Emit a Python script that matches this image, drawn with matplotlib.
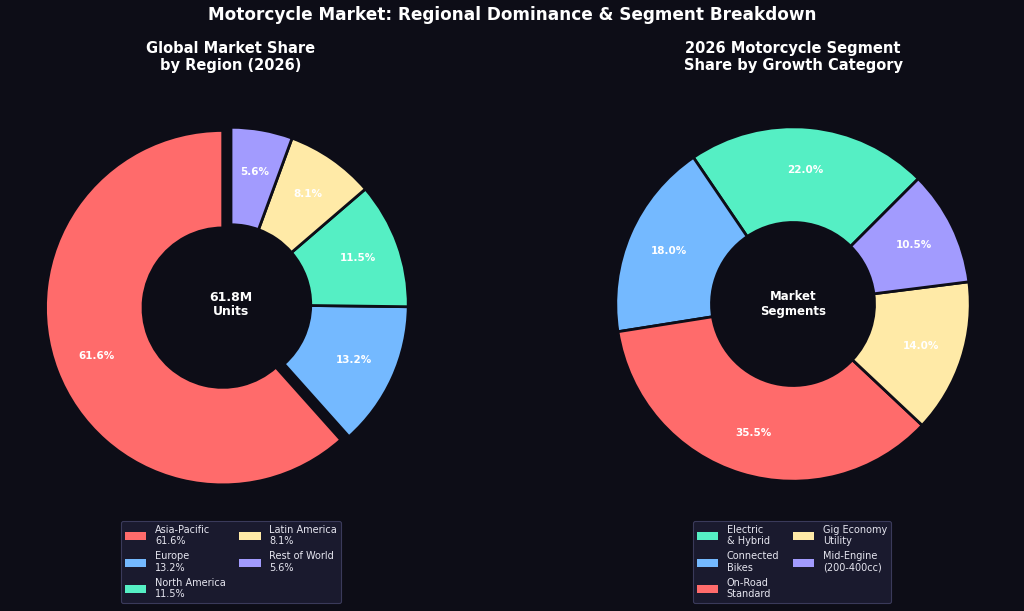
import matplotlib
matplotlib.use('Agg')
import matplotlib.pyplot as plt
from matplotlib.patches import Patch

BG = '#0d0d17'

regions = ['Asia-Pacific', 'Europe', 'North America', 'Latin America', 'Rest of World']
region_share = [61.6, 13.2, 11.5, 8.1, 5.6]
region_colors = ['#ff6b6b', '#74b9ff', '#55efc4', '#ffeaa7', '#a29bfe']
region_explode = [0.05, 0, 0, 0, 0]
total_units = '61.8M\nUnits'

segments = ['Electric\n& Hybrid', 'Connected\nBikes', 'On-Road\nStandard',
            'Gig Economy\nUtility', 'Mid-Engine\n(200-400cc)']
segment_share = [22.0, 18.0, 35.5, 14.0, 10.5]
segment_colors = ['#55efc4', '#74b9ff', '#ff6b6b', '#ffeaa7', '#a29bfe']

plt.rcParams['font.family'] = ['DejaVu Sans']
fig = plt.figure(figsize=(10.24, 6.11), dpi=100, facecolor=BG)
W, H = 1024, 611
SIZE = 443  # axes box in px, pie radius = SIZE / 2.5


def make_ax(cx, cy, size):
    return fig.add_axes([(cx - size / 2) / W, (H - cy - size / 2) / H, size / W, size / H])


# left: regional share
ax1 = make_ax(231, 304.5, SIZE)
ax1.set_facecolor(BG)
ax1.pie(region_share, colors=region_colors, explode=region_explode, startangle=90,
        autopct='%1.1f%%', pctdistance=0.76,
        wedgeprops=dict(width=0.55, edgecolor=BG, linewidth=2),
        textprops=dict(color='white', fontsize=7.5, fontweight='bold'))
ax1.text(0, 0, total_units, ha='center', va='center', color='white',
         fontsize=9, fontweight='bold', linespacing=1.15)
ax1.set_xlim(-1.25, 1.25)
ax1.set_ylim(-1.25, 1.25)

# right: segments
ax2 = make_ax(793, 304, SIZE)
ax2.set_facecolor(BG)
ax2.pie(segment_share, colors=segment_colors, startangle=45,
        autopct='%1.1f%%', pctdistance=0.76,
        wedgeprops=dict(width=0.54, edgecolor=BG, linewidth=2),
        textprops=dict(color='white', fontsize=7.5, fontweight='bold'))
ax2.text(0, 0, 'Market\nSegments', ha='center', va='center', color='white',
         fontsize=8.5, fontweight='bold', linespacing=1.15)
ax2.set_xlim(-1.25, 1.25)
ax2.set_ylim(-1.25, 1.25)

fig.text(0.5, 1 - 15 / H, 'Motorcycle Market: Regional Dominance & Segment Breakdown',
         ha='center', va='center', color='white', fontsize=12.2, fontweight='bold')
fig.text(231 / W, 1 - 57 / H, 'Global Market Share\nby Region (2026)', ha='center',
         va='center', color='white', fontsize=10.5, fontweight='bold', linespacing=1.1)
fig.text(793 / W, 1 - 57 / H, '2026 Motorcycle Segment\nShare by Growth Category',
         ha='center', va='center', color='white', fontsize=10.5, fontweight='bold',
         linespacing=1.1)

leg_kw = dict(loc='upper center', ncol=2, fontsize=7, facecolor='#1a1a2e',
              edgecolor='#3a3a5a', labelcolor='#e6e6f0', framealpha=1,
              handlelength=2.2, handleheight=0.9, columnspacing=1.4,
              labelspacing=0.5, handletextpad=0.9)

h1 = [Patch(facecolor=c, label=f'{n}\n{v}%') for n, v, c in zip(regions, region_share, region_colors)]
leg1 = fig.legend(handles=h1, bbox_to_anchor=(231 / W, 1 - 516 / H), **leg_kw)
leg1.get_frame().set_linewidth(0.8)

h2 = [Patch(facecolor=c, label=n) for n, c in zip(segments, segment_colors)]
leg2 = fig.legend(handles=h2, bbox_to_anchor=(792 / W, 1 - 516 / H), **leg_kw)
leg2.get_frame().set_linewidth(0.8)

plt.savefig('out.png', dpi=100, facecolor=BG)
